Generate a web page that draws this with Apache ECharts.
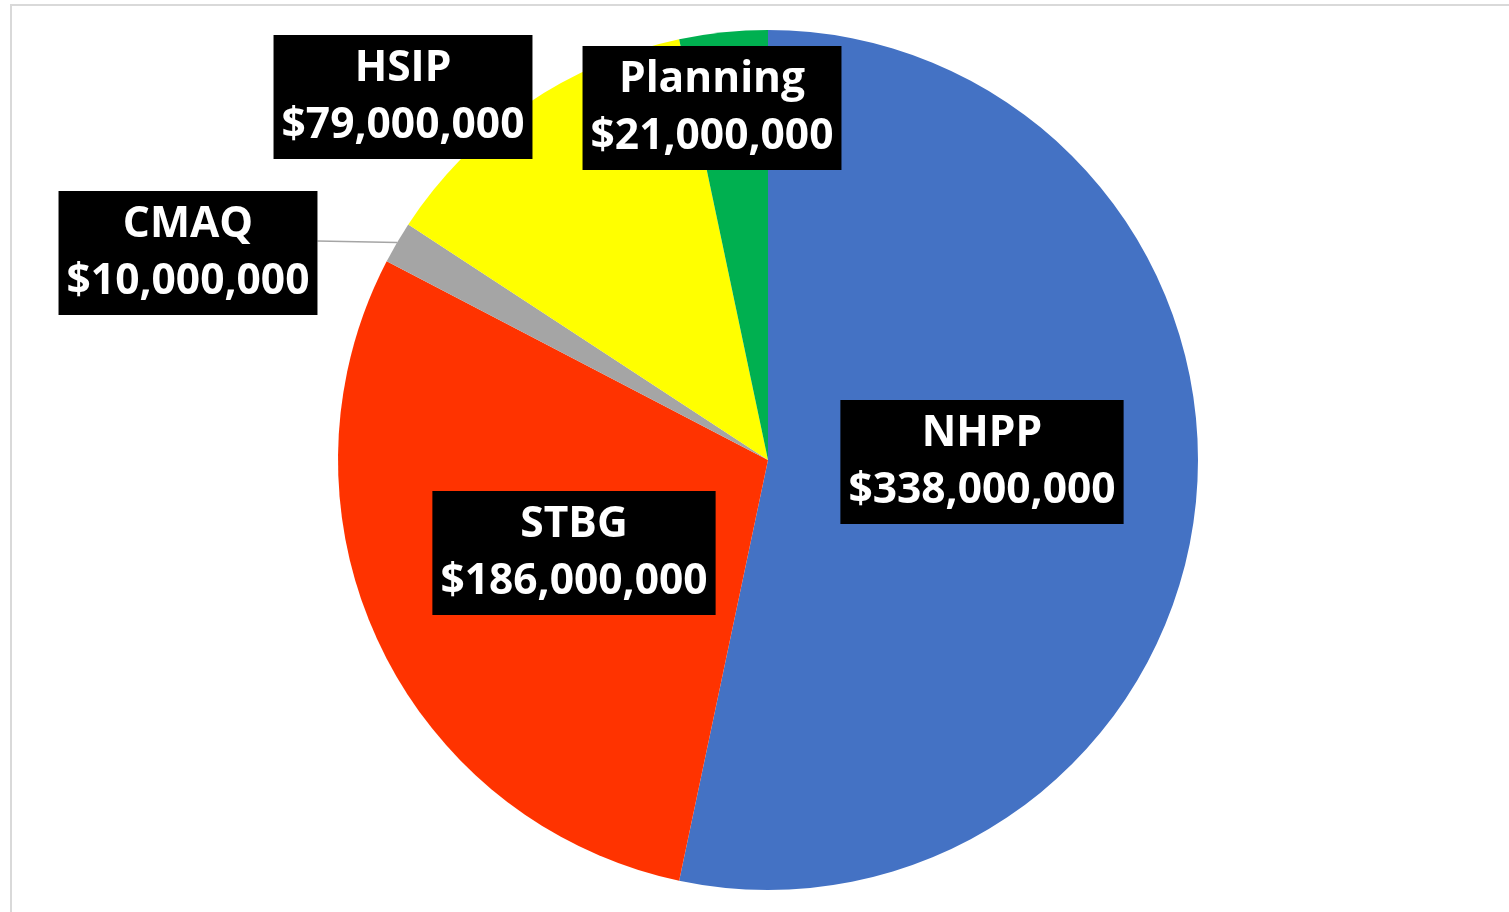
<!DOCTYPE html>
<html>
<head>
<meta charset="utf-8">
<script src="https://cdn.jsdelivr.net/npm/echarts@6/dist/echarts.min.js"></script>
<style>
  html, body { margin: 0; padding: 0; background: #fff; }
  #chart { width: 1509px; height: 912px; }
</style>
</head>
<body>
<div id="chart"></div>
<script>
var programs = ["NHPP", "STBG", "CMAQ", "HSIP", "Planning"];
var amounts = [338000000, 186000000, 10000000, 79000000, 21000000];
var sliceColors = ["#4472C4", "#FF3300", "#A5A5A5", "#FFFF00", "#00B050"];

// label box centres, one per slice (same order as programs)
var labelSpots = [
  [982, 462],
  [574, 553],
  [188, 253],
  [403, 97],
  [712, 108]
];

var chart = echarts.init(document.getElementById("chart"));

var option = {
  backgroundColor: "#ffffff",
  animation: false,
  graphic: [
    {
      type: "rect",
      shape: { x: 11, y: 5, width: 1520, height: 930 },
      style: { fill: "none", stroke: "#d9d9d9", lineWidth: 2 },
      silent: true
    }
  ],
  series: [
    {
      type: "pie",
      center: [768, 460],
      radius: 430,
      startAngle: 90,
      clockwise: true,
      data: programs.map(function (name, i) {
        var withLine = name === "CMAQ";
        return {
          name: name,
          value: amounts[i],
          itemStyle: { color: sliceColors[i] },
          label: { position: withLine ? "outside" : "inside" },
          labelLine: { show: withLine }
        };
      }),
      itemStyle: { borderWidth: 0 },
      label: {
        show: true,
        overflow: "none",
        formatter: function (p) {
          return p.name + "\n$" + p.value.toLocaleString("en-US");
        },
        color: "#ffffff",
        fontFamily: "Open Sans",
        fontWeight: "bold",
        fontSize: 42.5,
        lineHeight: 57,
        align: "center",
        backgroundColor: "#000000",
        padding: [10, 8, 0, 8]
      },
      labelLine: {
        show: true,
        lineStyle: { color: "#A5A5A5", width: 1.5 }
      },
      emphasis: { disabled: true },
      labelLayout: function (params) {
        var spot = labelSpots[params.dataIndex];
        var out = {
          x: spot[0],
          y: spot[1],
          align: "center",
          verticalAlign: "middle"
        };
        if (params.labelLinePoints) {
          var a = params.labelLinePoints[0];
          var end = [spot[0] + params.labelRect.width / 2, spot[1] - 12];
          out.labelLinePoints = [a, end, end];
        }
        return out;
      }
    }
  ]
};

chart.setOption(option);
</script>
</body>
</html>
